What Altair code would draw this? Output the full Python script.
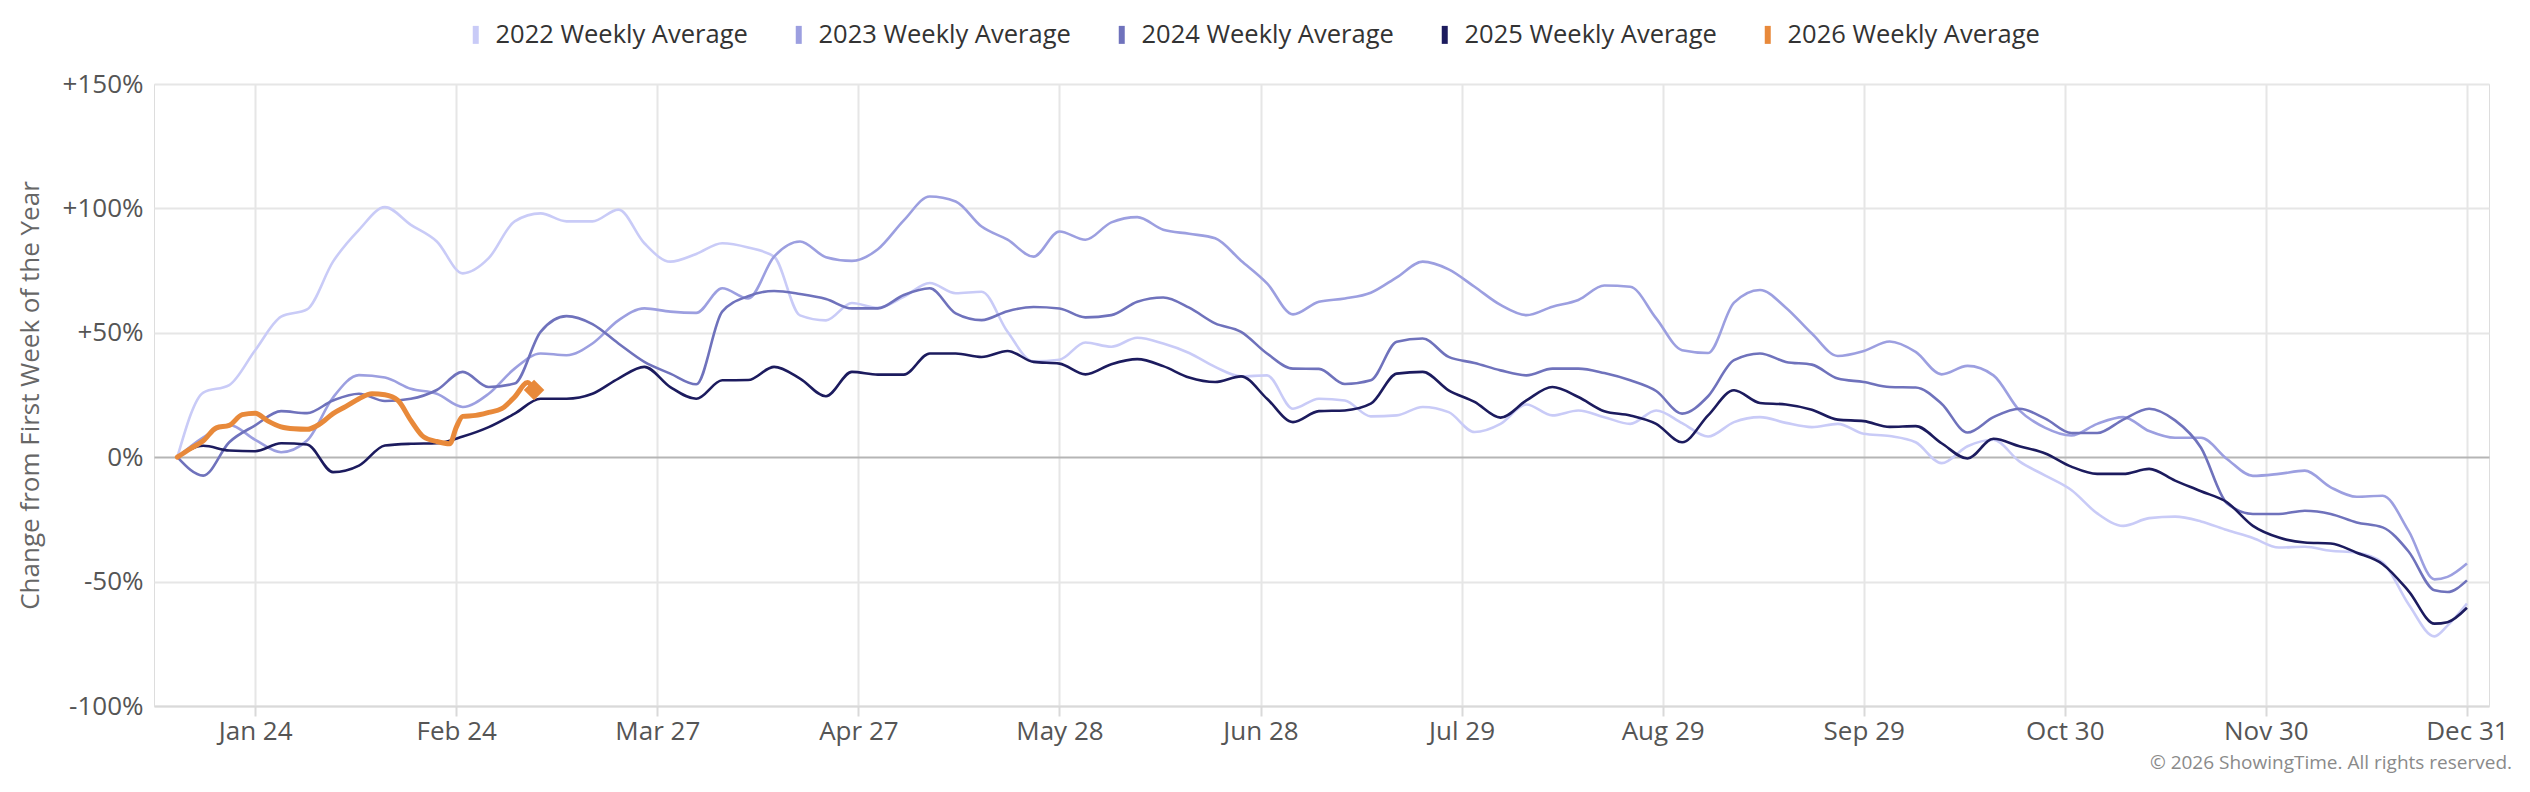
import altair as alt
import pandas as pd

# ---------------- data ----------------
days = [12, 16, 20, 24, 28, 32, 36, 40, 44, 48, 52, 56, 60, 64, 68, 72, 76, 80, 84, 88,
        92, 96, 100, 104, 108, 112, 116, 120, 124, 128, 132, 136, 140, 144, 148, 152, 156, 160, 164, 168,
        172, 176, 180, 184, 188, 192, 196, 200, 204, 208, 212, 216, 220, 224, 228, 232, 236, 240, 244, 248,
        252, 256, 260, 264, 268, 272, 276, 280, 284, 288, 292, 296, 300, 304, 308, 312, 316, 320, 324, 328,
        332, 336, 340, 344, 348, 352, 356, 360, 362, 365]

y2022 = [0, 26, 29, 43, 56.5, 59.4, 78.6, 91.4, 100.5, 93.4, 86.7, 73.9, 80, 94.8, 98, 94.8, 94.8, 99.5, 86, 78.6,
         81.7, 86, 84.3, 80.6, 57, 55, 62, 60, 64.5, 70, 65.9, 66.5, 50.4, 38.5, 39.2, 46.1, 44.4, 48, 45.7, 41.9,
         36.3, 32.5, 32.9, 19.5, 23.5, 22.8, 16.4, 16.8, 20.2, 18.1, 10.1, 13.4, 21.2, 16.8, 18.8, 16.1, 13.4, 18.8, 13.7, 8.3,
         14.1, 16.1, 13.8, 12.1, 13.4, 9.4, 8.5, 6, -2.4, 4.4, 7, -1.7, -7.4, -13.2, -22.6, -27.6, -24.5, -23.9, -25.8, -29.3,
         -32.5, -36.3, -36, -37.6, -38.4, -42.3, -59.1, -72, -67.7, -58.8]

y2023 = [0, 8, 13, 7, 2, 6.7, 24, 33, 32, 27.5, 25.5, 20.2, 25.5, 35.6, 41.7, 41, 45.7, 55, 59.8, 58.5,
         58, 67.9, 63.8, 80.6, 86.7, 80.4, 78.9, 83.6, 95.2, 104.8, 102.8, 92.7, 87.4, 80.6, 90.7, 87.4, 94.4, 96.5, 91.4, 89.8,
         88, 79, 69.9, 57.4, 62.5, 63.8, 66.1, 72.3, 78.6, 75.5, 68.5, 61.2, 57.1, 60.5, 63.2, 69, 68.5, 55.8, 43, 41.9,
         62.1, 67.2, 60.1, 49.7, 40.7, 42.7, 46.5, 42.3, 33.3, 36.7, 32.9, 18.8, 11.8, 8.7, 13.4, 16.1, 10.5, 7.8, 7.8, -0.7,
         -7.5, -6.7, -5.4, -12.1, -15.9, -15.5, -29.6, -49.1, -48.1, -42.7]

y2024 = [0, -7.4, 6, 12.8, 18.5, 17.7, 22.8, 25.5, 22.6, 23.5, 27, 34.3, 28.2, 29.6, 50.4, 56.7, 53.5, 45.7, 38.3, 33.6,
         29.3, 58.5, 64.7, 66.8, 65.6, 63.6, 59.8, 59.8, 65.2, 67.9, 57.8, 55.1, 58.7, 60.4, 59.8, 56.2, 57.1, 62.5, 64.2, 60.1,
         53.8, 50.4, 41.7, 35.6, 35.5, 29.4, 30.9, 46.4, 47.7, 40.3, 37.9, 34.9, 32.9, 35.6, 35.6, 33.8, 30.9, 26.6, 17.5, 24.5,
         39, 41.7, 38.3, 37.2, 31.6, 30.2, 28.2, 28, 21.5, 9.9, 16.1, 19.5, 15.5, 9.7, 9.7, 15.1, 19.5, 14.8, 3.8, -18.5,
         -22.8, -22.8, -21.5, -22.8, -26.2, -28.2, -37.9, -53.5, -54.2, -49.5]

y2025 = [0, 4.6, 2.7, 2.4, 5.6, 5.1, -6, -3.4, 4.7, 5.4, 5.6, 8.3, 12.1, 17.5, 23.5, 23.5, 25.5, 31.6, 36.3, 28.2,
         23.5, 30.9, 31, 36.3, 31.6, 24.5, 34.3, 33.2, 33.2, 41.7, 41.7, 40.3, 42.7, 38.3, 37.6, 33.3, 37.4, 39.4, 36.6, 32,
         30.2, 32.5, 23.5, 14.1, 18.5, 18.8, 21.5, 33.6, 34.3, 26.9, 22.2, 15.9, 22.8, 28.2, 24.2, 18.5, 16.8, 13.4, 6, 16.8,
         26.9, 21.8, 21.2, 19.1, 15.1, 14.5, 12.2, 12.5, 5.6, -0.5, 7.4, 4.4, 1.5, -3.8, -6.7, -6.7, -4.7, -9.4, -13.7, -18.1,
         -27.6, -32.3, -34.3, -34.7, -38.4, -43, -53.8, -66.9, -66.3, -60.5]

days_2026 = [12, 14, 16, 18, 20, 22, 24, 26, 28, 30, 32, 34, 36, 38, 40, 42, 44, 46, 48, 50,
             52, 54, 55, 56, 58, 60, 62, 64, 66, 67]
y2026 = [0, 3.4, 6.6, 11.8, 12.8, 17.1, 17.7, 14.5, 12.2, 11.4, 11.2, 13.4, 17.5, 20.4, 23.5, 25.5, 25.1, 22.8, 14.8, 8.1,
         6.3, 5.4, 12, 16.4, 16.8, 18, 19.5, 24.2, 30, 27]

series_names = ["2022 Weekly Average", "2023 Weekly Average", "2024 Weekly Average",
                "2025 Weekly Average", "2026 Weekly Average"]
series_colors = ["#c9cbf7", "#9c9fe0", "#6f72bc", "#1c1b5e", "#e8893a"]

tick_days = [24, 55, 86, 117, 148, 179, 210, 241, 272, 303, 334, 365]
tick_labels = ["Jan 24", "Feb 24", "Mar 27", "Apr 27", "May 28", "Jun 28",
               "Jul 29", "Aug 29", "Sep 29", "Oct 30", "Nov 30", "Dec 31"]
y_ticks = [-100, -50, 0, 50, 100, 150]

# ---------------- tables ----------------
rows = []
for name, vals in zip(series_names[:4], [y2022, y2023, y2024, y2025]):
    for d, v in zip(days, vals):
        rows.append({"day": d, "value": v, "series": name})
df_past = pd.DataFrame(rows)
df_2026 = pd.DataFrame({"day": days_2026, "value": y2026, "series": series_names[4]})
df_last = df_2026.tail(1)

x_expr = "".join(f"datum.value == {d} ? '{l}' : " for d, l in zip(tick_days, tick_labels)) + "''"
y_expr = "datum.value > 0 ? '+' + datum.value + '%' : datum.value + '%'"

FONT = "Open Sans"

x_enc = alt.X(
    "day:Q",
    scale=alt.Scale(domain=[8.4, 368.4], nice=False, zero=False),
    axis=alt.Axis(values=tick_days, labelExpr=x_expr, title=None, grid=True,
                  gridColor="#e6e6e6", gridWidth=2, domainColor="#d9d9d9", domainWidth=2,
                  tickColor="#d9d9d9", tickWidth=2, tickSize=10, labelPadding=2,
                  labelFontSize=26, labelFont=FONT, labelColor="#555555", labelFlush=False),
)
y_enc = alt.Y(
    "value:Q",
    scale=alt.Scale(domain=[-100, 150], nice=False),
    axis=alt.Axis(values=y_ticks, labelExpr=y_expr, title="Change from First Week of the Year",
                  grid=True,
                  gridColor={"condition": {"test": "datum.value === 0", "value": "#b5b5b5"}, "value": "#e6e6e6"},
                  gridWidth=2, domain=False, ticks=False, labelPadding=11,
                  labelFontSize=26, labelFont=FONT, labelColor="#555555",
                  titleFontSize=26, titleFont=FONT, titleColor="#666666", titleFontWeight="normal",
                  titleX=-124, titleY=311, titleAngle=270, titleAlign="center", titleBaseline="middle"),
)
legend = alt.Legend(orient="none", legendX=309, legendY=-62, direction="horizontal", title=None,
                    symbolType="M0,-1L0,1", symbolSize=324, symbolStrokeWidth=6,
                    labelFontSize=25.5, labelFont=FONT, labelColor="#333333", labelOffset=7,
                    labelLimit=0, columnPadding=38, symbolOpacity=1)
color_enc = alt.Color("series:N", scale=alt.Scale(domain=series_names, range=series_colors), legend=legend)

past = alt.Chart(df_past).mark_line(strokeWidth=2.6, strokeJoin="round", interpolate="monotone").encode(
    x=x_enc, y=y_enc, color=color_enc)
current = alt.Chart(df_2026).mark_line(strokeWidth=5, strokeJoin="round", strokeCap="round",
                                       interpolate="monotone").encode(
    x=x_enc, y=y_enc, color=color_enc)
marker = alt.Chart(df_last).mark_point(shape="diamond", filled=True, size=420, opacity=1,
                                       color=series_colors[4]).encode(x=x_enc, y=y_enc)

chart = alt.layer(past, current, marker).properties(
    width=2335, height=622,
    autosize=alt.AutoSizeParams(type="none"),
    padding={"left": 146, "top": 76, "right": 30, "bottom": 70},
    title=alt.TitleParams("© 2026 ShowingTime. All rights reserved.", orient="bottom", anchor="end",
                          frame="group", fontSize=19, font=FONT, fontWeight="normal", color="#8a8a8a",
                          offset=10, dx=23),
).configure_view(stroke=None).configure(background="white")

chart.save("out.html", embed_options={"renderer": "svg", "actions": False})
